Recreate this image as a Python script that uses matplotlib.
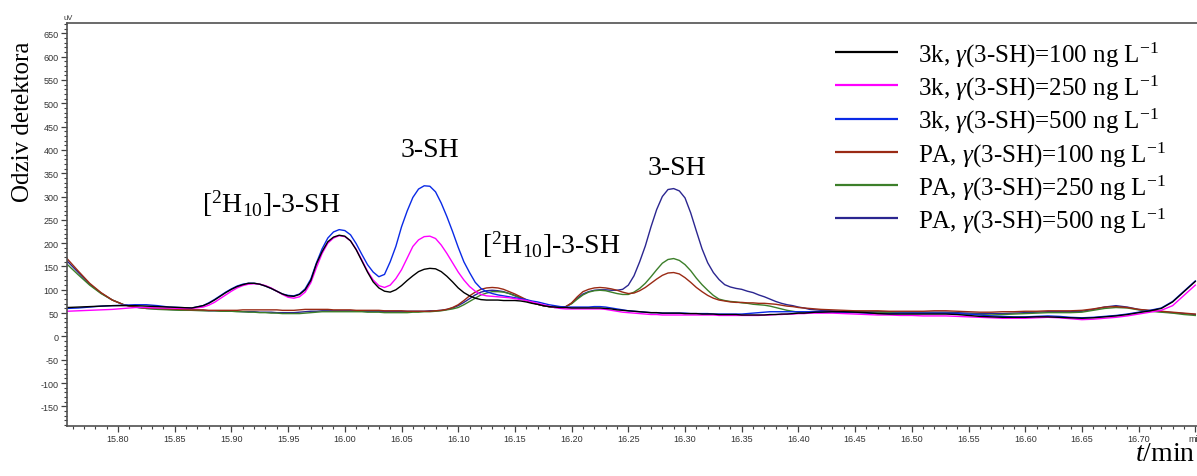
import numpy as np
import matplotlib
matplotlib.use("Agg")
import matplotlib.pyplot as plt
from matplotlib.ticker import MultipleLocator, FixedLocator

plt.rcParams['axes.unicode_minus'] = False
plt.rcParams['mathtext.fontset'] = 'custom'
plt.rcParams['mathtext.rm'] = 'Liberation Serif'
plt.rcParams['mathtext.it'] = 'Liberation Serif:italic'
plt.rcParams['mathtext.bf'] = 'Liberation Serif:bold'

# ---------------- data ----------------
# sampling grid of retention time (min)
t_a = np.round(np.arange(15.755, 15.8751, 0.01), 3)   # 13 points
t_b = np.round(np.arange(15.880, 16.4201, 0.005), 3)  # 109 points
t_c = np.round(np.arange(16.430, 16.7501, 0.01), 3)   # 33 points
time_min = np.concatenate([t_a, t_b, t_c])

k3_100 = [62, 63, 64, 65, 66, 66, 66, 65, 64, 63, 62, 61, 66,
          71, 78, 86, 94, 101, 107, 111, 114, 114, 112,
          108, 103, 97, 91, 87, 86, 90, 100, 120, 156,
          182, 203, 213, 217, 215, 205, 186, 162, 138, 117,
          104, 97, 95, 100, 109, 120, 130, 139, 144, 146,
          145, 139, 129, 117, 104, 94, 87, 82, 79, 78,
          78, 78, 77, 77, 77, 76, 74, 71, 69, 66,
          64, 63, 62, 62, 61, 61, 61, 61, 61, 61,
          60, 59, 57, 56, 55, 54, 53, 52, 51, 51,
          50, 50, 50, 50, 49, 49, 49, 48, 48, 48,
          47, 47, 47, 47, 46, 46, 46, 46, 46, 47,
          47, 48, 48, 49, 50, 50, 51, 52, 52,
          53, 53, 52, 51, 49, 48, 48, 48, 48, 48,
          48, 47, 45, 43, 42, 41, 41, 41, 42, 42,
          41, 40, 39, 40, 42, 44, 47, 51, 55, 60,
          74, 96, 118]

k3_250 = [54, 55, 56, 57, 58, 60, 62, 62, 61, 61, 60, 60, 63,
          67, 73, 81, 89, 97, 104, 109, 112, 113, 112,
          109, 104, 97, 90, 84, 82, 85, 95, 115, 148,
          178, 200, 211, 216, 214, 205, 187, 164, 140, 121,
          109, 105, 110, 124, 143, 168, 193, 207, 214, 215,
          210, 196, 178, 158, 138, 121, 107, 97, 90, 87,
          86, 85, 84, 83, 81, 79, 77, 74, 71, 68,
          65, 62, 60, 59, 59, 59, 59, 59, 59, 59,
          58, 56, 54, 52, 51, 50, 49, 48, 47, 47,
          46, 46, 46, 46, 46, 46, 46, 46, 46, 46,
          45, 45, 45, 45, 45, 45, 45, 45, 46, 46,
          47, 47, 48, 48, 49, 49, 50, 50, 50,
          50, 49, 48, 47, 46, 46, 45, 45, 44, 44,
          44, 43, 42, 41, 40, 39, 39, 39, 40, 41,
          40, 38, 36, 37, 39, 41, 44, 48, 52, 56,
          66, 88, 110]

k3_500 = [60, 61, 63, 65, 66, 67, 68, 68, 66, 63, 62, 61, 66,
          72, 79, 87, 95, 102, 108, 112, 114, 114, 112,
          108, 103, 97, 91, 88, 87, 91, 102, 123, 158,
          188, 211, 224, 229, 227, 218, 199, 176, 154, 138,
          128, 133, 160, 193, 235, 269, 298, 316, 323, 322,
          310, 286, 257, 225, 191, 160, 137, 116, 103, 96,
          92, 89, 87, 85, 83, 81, 79, 76, 74, 71,
          68, 66, 64, 63, 63, 63, 63, 63, 64, 64,
          63, 61, 59, 57, 55, 54, 53, 52, 51, 51,
          50, 50, 50, 50, 50, 49, 49, 49, 49, 48,
          48, 48, 48, 48, 48, 49, 50, 51, 52, 53,
          53, 53, 53, 53, 53, 53, 53, 53, 53,
          52, 51, 51, 50, 49, 49, 50, 50, 50, 50,
          50, 49, 48, 46, 44, 43, 42, 42, 43, 44,
          43, 41, 40, 41, 43, 45, 48, 52, 56, 61,
          75, 97, 119]

pa_100 = [167, 140, 114, 94, 78, 68, 63, 61, 60, 59, 58, 57, 57,
          56, 56, 56, 56, 56, 56, 57, 57, 57, 57,
          57, 57, 57, 56, 56, 56, 57, 58, 58, 58,
          58, 58, 57, 57, 57, 57, 56, 56, 56, 56,
          56, 55, 55, 55, 55, 54, 54, 54, 54, 54,
          55, 56, 58, 62, 68, 77, 87, 95, 101, 104,
          105, 104, 101, 96, 91, 85, 79, 73, 69, 66,
          64, 63, 62, 64, 72, 85, 96, 101, 104, 105,
          104, 102, 99, 95, 92, 93, 98, 105, 114, 123,
          131, 136, 137, 134, 126, 116, 105, 96, 88, 82,
          78, 76, 74, 73, 73, 72, 72, 71, 71, 70,
          69, 67, 65, 64, 62, 61, 60, 59, 58,
          57, 56, 55, 55, 55, 54, 54, 54, 54, 55,
          55, 54, 53, 52, 52, 53, 53, 54, 54, 55,
          55, 55, 56, 59, 63, 64, 62, 58, 56, 54,
          52, 50, 48]

pa_250 = [155, 132, 110, 92, 78, 68, 63, 60, 58, 57, 56, 56, 55,
          55, 55, 54, 54, 54, 53, 53, 52, 52, 51,
          51, 50, 50, 49, 49, 49, 49, 50, 51, 52,
          53, 53, 53, 53, 53, 53, 53, 53, 52, 52,
          52, 51, 51, 51, 51, 51, 52, 52, 53, 53,
          54, 55, 57, 59, 62, 68, 75, 82, 89, 93,
          96, 96, 95, 92, 87, 82, 77, 72, 69, 66,
          64, 62, 62, 64, 70, 80, 89, 95, 98, 99,
          98, 95, 92, 90, 90, 95, 103, 114, 128, 143,
          157, 165, 167, 163, 154, 141, 125, 111, 99, 88,
          80, 77, 75, 74, 72, 71, 69, 68, 67, 65,
          62, 59, 56, 54, 52, 51, 51, 52, 53,
          53, 53, 53, 52, 52, 51, 51, 50, 50, 50,
          50, 49, 48, 47, 46, 47, 48, 49, 50, 51,
          51, 51, 52, 56, 60, 62, 61, 57, 54, 52,
          50, 47, 45]

pa_500 = [162, 137, 112, 93, 78, 68, 63, 60, 59, 58, 57, 56, 56,
          55, 55, 55, 54, 54, 54, 53, 53, 53, 52,
          52, 52, 51, 51, 51, 51, 52, 53, 54, 54,
          55, 55, 55, 55, 55, 55, 55, 54, 54, 54,
          54, 54, 54, 54, 54, 54, 54, 54, 54, 55,
          55, 56, 58, 61, 66, 73, 81, 89, 95, 98,
          99, 98, 96, 92, 88, 83, 78, 73, 69, 66,
          64, 63, 62, 64, 71, 82, 91, 96, 99, 100,
          100, 99, 99, 101, 110, 130, 160, 194, 235, 272,
          300, 315, 317, 312, 297, 265, 226, 188, 158, 137,
          122, 111, 106, 103, 101, 97, 94, 89, 85, 80,
          75, 71, 68, 66, 63, 61, 58, 57, 56,
          55, 54, 54, 53, 53, 53, 52, 52, 52, 52,
          52, 51, 50, 49, 49, 49, 50, 51, 52, 53,
          53, 53, 54, 58, 63, 66, 63, 58, 55, 53,
          51, 49, 47]

series_labels = [
    r"3k, $\mathit{\gamma}$(3-SH)=100 ng L$^{-1}$",
    r"3k, $\mathit{\gamma}$(3-SH)=250 ng L$^{-1}$",
    r"3k, $\mathit{\gamma}$(3-SH)=500 ng L$^{-1}$",
    r"PA, $\mathit{\gamma}$(3-SH)=100 ng L$^{-1}$",
    r"PA, $\mathit{\gamma}$(3-SH)=250 ng L$^{-1}$",
    r"PA, $\mathit{\gamma}$(3-SH)=500 ng L$^{-1}$",
]
series_values = [k3_100, k3_250, k3_500, pa_100, pa_250, pa_500]
series_colors = ['#000000', '#FF00FF', '#0A2AE6', '#9A2A14', '#3C7F2A', '#2B2690']

peak_labels = [r"[$^{2}$H$_{10}$]-3-SH", "3-SH", r"[$^{2}$H$_{10}$]-3-SH", "3-SH"]
peak_label_t = [15.935, 16.075, 16.182, 16.293]
peak_label_v = [286, 400, 198, 363]

x_tick_values = [15.80, 15.85, 15.90, 15.95, 16.00, 16.05, 16.10, 16.15, 16.20,
                 16.25, 16.30, 16.35, 16.40, 16.45, 16.50, 16.55, 16.60, 16.65,
                 16.70, 16.75]
x_tick_labels = ["%.2f" % v for v in x_tick_values[:-1]] + ["min"]

for s in series_values:
    assert len(s) == len(time_min), len(s)

# ---------------- figure ----------------
fig = plt.figure(figsize=(11.97, 4.77), dpi=100)
ax = fig.add_axes([67 / 1197, 1 - 427 / 477, 1 - 67 / 1197, (427 - 24) / 477])

draw_order = [5, 4, 3, 2, 1, 0]
for i in draw_order:
    ax.plot(time_min, series_values[i], color=series_colors[i], lw=1.0,
            solid_joinstyle='round', zorder=2 + (5 - i) * 0.1)

ax.set_xlim(15.755, 16.7515)
ax.set_ylim(-192, 672)

ax.xaxis.set_major_locator(FixedLocator(x_tick_values))
ax.set_xticklabels(x_tick_labels)
ax.xaxis.set_minor_locator(MultipleLocator(0.01))
ax.yaxis.set_major_locator(MultipleLocator(50))
ax.yaxis.set_minor_locator(MultipleLocator(10))

tick_color = '#404040'
ax.tick_params(axis='both', which='major', direction='out', length=4.5, width=0.9,
               color=tick_color, labelsize=6.5, labelcolor='#333333', pad=1.5)
ax.tick_params(axis='both', which='minor', direction='out', length=2.5, width=0.8,
               color=tick_color)
ax.set_yticks([v for v in range(-150, 651, 50)])
for lab in ax.get_xticklabels() + ax.get_yticklabels():
    lab.set_fontfamily('Liberation Sans')

for side in ['left', 'bottom', 'top']:
    ax.spines[side].set_color('#505050')
    ax.spines[side].set_linewidth(1.2)
ax.spines['right'].set_visible(False)

# peak annotations
for lab, tx, vy in zip(peak_labels, peak_label_t, peak_label_v):
    ax.text(tx, vy, lab, ha='center', va='center', fontsize=20,
            family='Liberation Serif')

# legend (manual, to reproduce the compact layout)
lx0, lx1, ltx = (835 - 67) / 1130, (898 - 67) / 1130, (918 - 67) / 1130
ly0, ldy = (427 - 53.3) / 403, 33.1 / 403
for i, (lab, col) in enumerate(zip(series_labels, series_colors)):
    yy = ly0 - i * ldy
    ax.plot([lx0, lx1], [yy, yy], color=col, lw=1.6, transform=ax.transAxes,
            clip_on=False, solid_capstyle='butt')
    ax.text(ltx, yy - 0.006, lab, transform=ax.transAxes, ha='left', va='center',
            fontsize=18, family='Liberation Serif')

# axis titles
fig.text(23 / 1197, 1 - 122 / 477, "Odziv detektora", rotation=90, ha='center',
         va='center', fontsize=18, family='Liberation Serif')
fig.text(1195 / 1197, 1 - 455 / 477, r"$\mathit{t}$/min", ha='right', va='center',
         fontsize=20, family='Liberation Serif')
fig.text(68 / 1197, 1 - 19 / 477, "uV", ha='center', va='center', fontsize=5.5,
         family='Liberation Sans', color='#333333')

fig.savefig("out.png", dpi=100, facecolor='white')
